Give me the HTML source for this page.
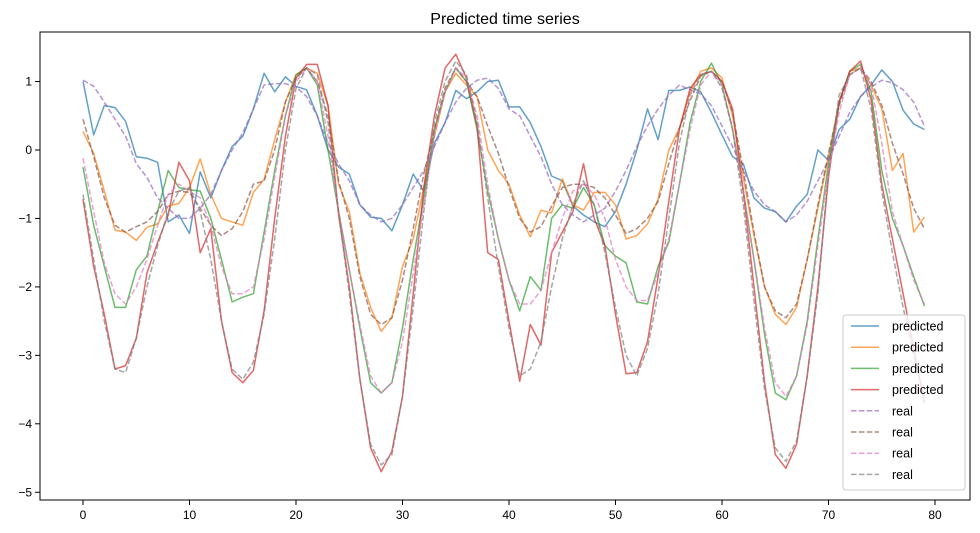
<!DOCTYPE html>
<html><head><meta charset="utf-8"><style>
body{margin:0;background:#fff;font-family:"Liberation Sans","DejaVu Sans",sans-serif;}
svg text{font-family:"Liberation Sans","DejaVu Sans",sans-serif;}
</style></head><body>
<svg id="chart" width="980" height="528" xmlns="http://www.w3.org/2000/svg">
<rect width="980" height="528" fill="#fff"/>
<text x="505" y="24" font-size="16" text-anchor="middle">Predicted time series</text>
<g id="grid"></g>
<g id="series"></g>
<rect x="40" y="32" width="930" height="468" fill="none" stroke="#000" stroke-width="1"/>
<g id="legend"></g>
</svg>
<script>
const pred1=[1.0,0.22,0.65,0.62,0.42,-0.1,-0.12,-0.18,-1.05,-0.95,-1.22,-0.32,-0.7,-0.3,0.05,0.2,0.6,1.12,0.85,1.07,0.93,0.88,0.5,0.0,-0.25,-0.35,-0.8,-0.98,-1.0,-1.18,-0.8,-0.35,-0.6,0.1,0.4,0.87,0.75,0.85,1.0,1.02,0.63,0.63,0.4,0.05,-0.38,-0.45,-0.82,-0.95,-1.05,-1.12,-0.9,-0.5,0.0,0.6,0.15,0.87,0.87,0.92,0.85,0.55,0.22,-0.1,-0.2,-0.7,-0.85,-0.9,-1.05,-0.82,-0.65,0.0,-0.15,0.3,0.45,0.78,0.95,1.17,1.0,0.58,0.38,0.3];
const pred2=[0.27,-0.05,-0.6,-1.17,-1.2,-1.32,-1.13,-1.08,-0.82,-0.78,-0.55,-0.13,-0.65,-1.0,-1.05,-1.1,-0.62,-0.43,0.15,0.7,1.1,1.2,1.12,0.65,-0.5,-0.9,-1.8,-2.3,-2.65,-2.45,-1.7,-1.3,-0.55,0.2,0.85,1.12,0.95,0.78,0.0,-0.3,-0.5,-0.95,-1.27,-0.88,-0.92,-0.42,-0.8,-0.88,-0.62,-0.62,-0.8,-1.3,-1.25,-1.08,-0.72,0.0,0.32,0.85,1.15,1.2,1.05,0.5,-0.4,-1.25,-2.0,-2.4,-2.55,-2.3,-1.6,-0.85,-0.1,0.7,1.15,1.2,0.95,0.6,-0.3,-0.05,-1.2,-0.98];
const pred3=[-0.25,-1.1,-1.7,-2.3,-2.3,-1.75,-1.55,-0.9,-0.3,-0.55,-0.58,-0.6,-1.0,-1.6,-2.22,-2.15,-2.1,-1.2,-0.3,0.5,1.1,1.2,0.95,0.0,-0.9,-1.75,-2.6,-3.4,-3.55,-3.4,-2.6,-1.6,-0.7,0.3,0.85,1.2,1.0,0.3,-0.6,-1.3,-1.9,-2.35,-1.85,-2.05,-1.0,-0.8,-0.85,-0.55,-0.8,-1.4,-1.55,-1.65,-2.22,-2.25,-1.7,-1.35,-0.5,0.4,1.0,1.27,0.95,0.3,-0.6,-1.6,-2.7,-3.55,-3.65,-3.3,-2.5,-1.3,-0.2,0.7,1.15,1.25,0.85,-0.3,-1.0,-1.4,-1.85,-2.28];
const pred4=[-0.72,-1.7,-2.4,-3.2,-3.15,-2.75,-1.8,-1.35,-0.95,-0.18,-0.45,-1.5,-1.15,-2.5,-3.25,-3.4,-3.22,-2.35,-1.0,0.2,1.05,1.25,1.25,0.65,-0.95,-2.0,-3.35,-4.35,-4.7,-4.4,-3.6,-2.1,-0.55,0.5,1.2,1.4,1.05,0.35,-1.5,-1.6,-2.5,-3.38,-2.55,-2.85,-1.5,-1.2,-0.9,-0.2,-1.0,-1.4,-2.4,-3.27,-3.25,-2.8,-1.85,-0.75,0.3,0.9,1.1,1.15,1.0,0.6,-0.6,-2.0,-3.4,-4.45,-4.65,-4.3,-3.3,-2.0,-0.4,0.7,1.15,1.3,0.73,-0.5,-1.3,-2.1,-2.9,-3.7];
const real1=[1.02,0.93,0.7,0.45,0.2,-0.2,-0.4,-0.7,-0.85,-1.0,-1.0,-0.85,-0.65,-0.3,0.0,0.25,0.6,0.95,0.97,0.97,0.92,0.78,0.5,0.1,-0.2,-0.45,-0.8,-0.95,-1.05,-1.0,-0.8,-0.55,-0.3,0.05,0.4,0.7,0.9,1.02,1.05,0.9,0.6,0.5,0.2,-0.1,-0.5,-0.8,-0.95,-1.05,-0.95,-0.85,-0.6,-0.3,0.05,0.35,0.6,0.8,0.95,0.88,0.82,0.65,0.35,0.05,-0.3,-0.6,-0.8,-0.9,-1.05,-0.95,-0.75,-0.45,-0.15,0.2,0.55,0.78,0.92,1.02,0.98,0.88,0.7,0.35];
const real2=[0.45,-0.1,-0.7,-1.1,-1.2,-1.12,-1.05,-0.9,-0.65,-0.6,-0.62,-0.85,-1.1,-1.25,-1.15,-0.9,-0.5,-0.45,0.0,0.7,1.05,1.2,1.0,0.5,-0.45,-1.0,-1.85,-2.4,-2.55,-2.45,-1.9,-1.15,-0.35,0.3,0.9,1.2,1.0,0.78,0.35,-0.05,-0.55,-1.0,-1.2,-1.12,-0.82,-0.55,-0.5,-0.5,-0.55,-0.7,-0.95,-1.22,-1.15,-1.0,-0.75,-0.2,0.32,0.72,1.08,1.15,1.0,0.55,-0.3,-1.2,-2.0,-2.35,-2.45,-2.25,-1.6,-0.8,-0.05,0.65,1.1,1.2,1.0,0.65,0.1,-0.35,-0.85,-1.15];
const real3=[-0.12,-0.9,-1.65,-2.1,-2.25,-2.0,-1.6,-1.1,-0.65,-0.5,-0.6,-0.7,-1.1,-1.7,-2.1,-2.1,-2.0,-1.3,-0.4,0.5,1.0,1.2,1.0,0.2,-0.9,-1.75,-2.55,-3.3,-3.55,-3.4,-2.8,-1.8,-0.8,0.2,0.85,1.2,1.05,0.5,-0.5,-1.3,-1.9,-2.25,-2.25,-2.05,-1.5,-1.0,-0.6,-0.5,-0.65,-1.0,-1.6,-2.0,-2.2,-2.2,-1.8,-1.3,-0.5,0.3,0.95,1.15,0.95,0.3,-0.6,-1.6,-2.6,-3.4,-3.6,-3.3,-2.55,-1.4,-0.3,0.55,1.1,1.2,0.95,0.1,-0.9,-1.4,-1.9,-2.25];
const real4=[-0.65,-1.6,-2.5,-3.2,-3.25,-2.75,-2.0,-1.4,-0.9,-0.6,-0.55,-0.9,-1.6,-2.5,-3.2,-3.35,-3.1,-2.4,-1.3,0.0,0.9,1.2,1.1,0.4,-0.9,-2.1,-3.35,-4.3,-4.6,-4.45,-3.6,-2.3,-0.9,0.4,1.0,1.3,1.1,0.4,-0.7,-1.7,-2.6,-3.3,-3.2,-2.8,-2.0,-1.3,-0.8,-0.45,-0.8,-1.5,-2.3,-3.0,-3.3,-2.9,-2.1,-1.0,0.1,0.8,1.1,1.15,0.9,0.3,-0.8,-2.2,-3.5,-4.35,-4.55,-4.25,-3.3,-2.1,-0.3,0.8,1.1,1.2,0.6,-0.6,-1.5,-2.3,-3.0,-3.6];
const xTicks=[0,10,20,30,40,50,60,70,80];
const yTicks=[1,0,-1,-2,-3,-4,-5];

const NS="http://www.w3.org/2000/svg";
const X=v=>83+v*10.65;
const Y=v=>150-v*68.45;
const grid=document.getElementById('grid');
function mk(tag,attrs,parent){const e=document.createElementNS(NS,tag);for(const k in attrs)e.setAttribute(k,attrs[k]);parent.appendChild(e);return e;}
xTicks.forEach(t=>{
  const l=mk('line',{x1:X(t),x2:X(t),y1:500,y2:505,stroke:'#000'},grid);
  
  
  const tx=mk('text',{x:X(t),y:519,'font-size':12,'text-anchor':'middle'},grid);
  tx.textContent=t;
  
  
});
yTicks.forEach(t=>{
  const l=mk('line',{x1:35,x2:40,y1:Y(t),y2:Y(t),stroke:'#000'},grid);
  
  
  const tx=mk('text',{x:32,y:Y(t)+4,'font-size':12,'text-anchor':'end'},grid);
  tx.textContent=t===0?'0':(t<0?'\u2212'+(-t):t);
  
  
});
const seriesDefs=[
 [pred1,'#1f77b4',false,'predicted'],[pred2,'#ff7f0e',false,'predicted'],[pred3,'#2ca02c',false,'predicted'],[pred4,'#d62728',false,'predicted'],
 [real1,'#9467bd',true,'real'],[real2,'#8c564b',true,'real'],[real3,'#e377c2',true,'real'],[real4,'#7f7f7f',true,'real']];
const sg=document.getElementById('series');
seriesDefs.forEach((s,i)=>{
  const pts=s[0].map((v,j)=>X(j).toFixed(1)+','+Y(v).toFixed(1)).join(' ');
  const p=mk('polyline',{points:pts,fill:'none',stroke:s[1],'stroke-width':1.5,'stroke-opacity':0.7,'stroke-linejoin':'round'},sg);
  if(s[2])p.setAttribute('stroke-dasharray','5.5,2.4');
  
  
});
const lg=document.getElementById('legend');
const box=mk('rect',{x:843,y:315,width:122,height:175,rx:3,fill:'#fff','fill-opacity':0.8,stroke:'#ccc'},lg);


seriesDefs.forEach((s,i)=>{
  const y=326+i*21.2;
  const l=mk('line',{x1:851,x2:879,y1:y,y2:y,stroke:s[1],'stroke-width':1.5,'stroke-opacity':0.7},lg);
  if(s[2])l.setAttribute('stroke-dasharray','5.5,2.4');
  
  
  const t=mk('text',{x:892,y:y+4.5,'font-size':12.5},lg);
  t.textContent=s[3];
  
  
});
</script>
</body></html>
